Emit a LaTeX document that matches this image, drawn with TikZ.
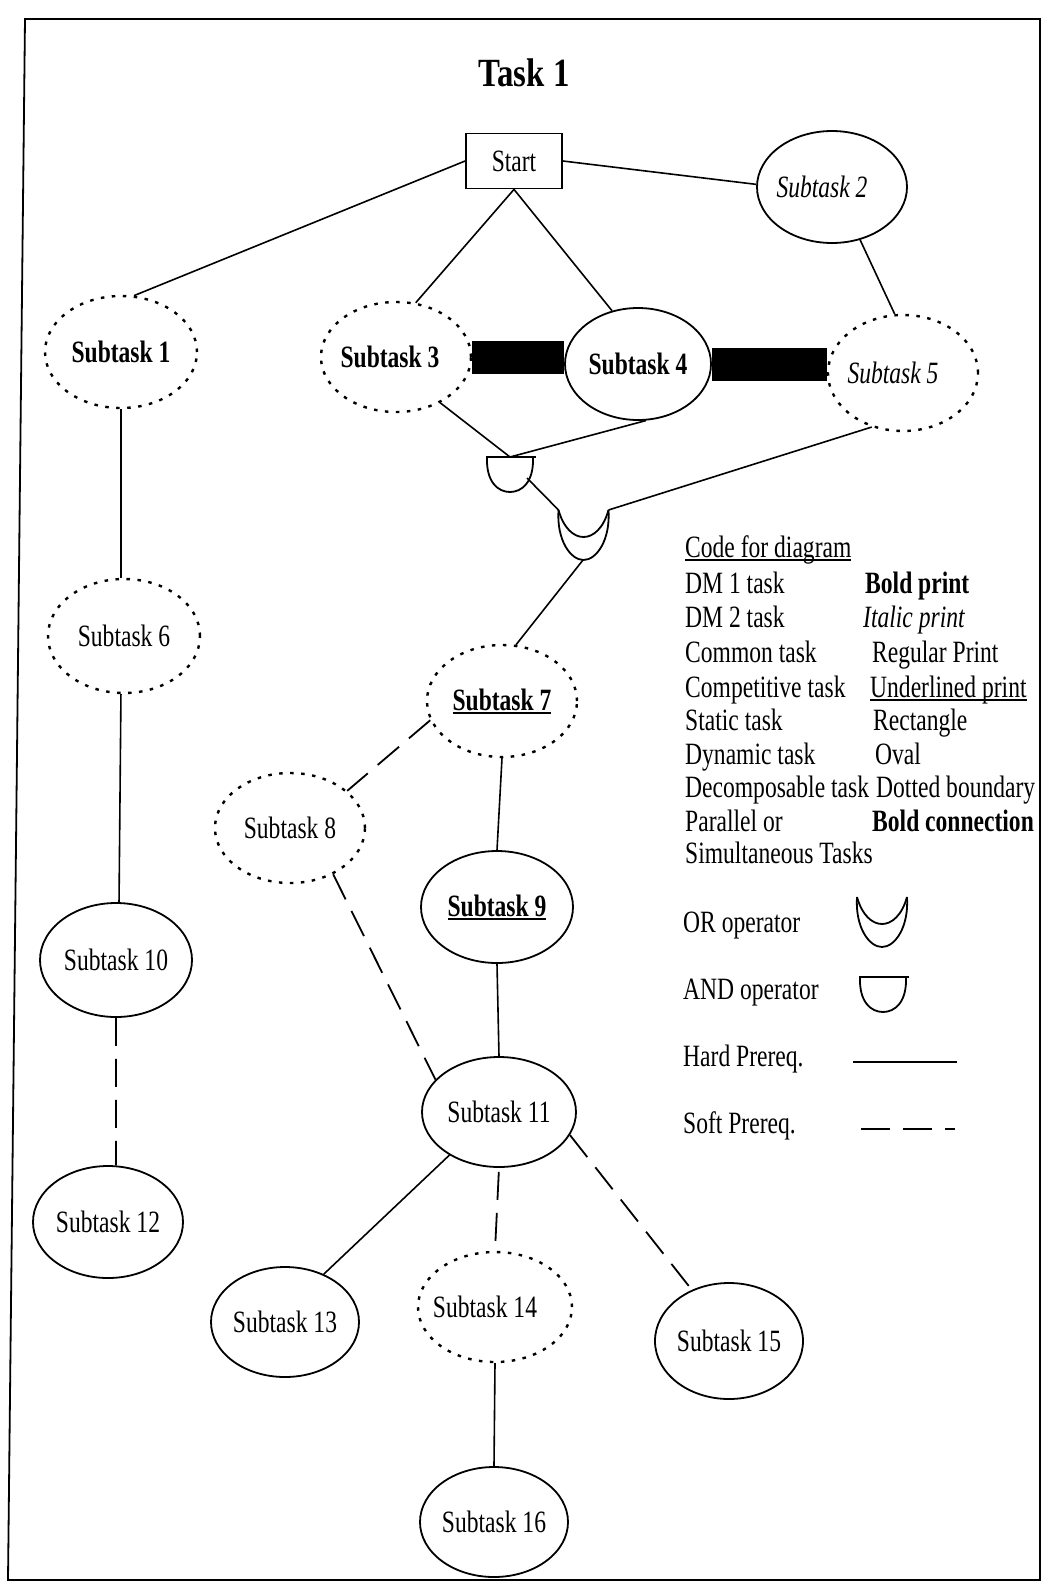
\documentclass[tikz,border=0pt]{standalone}
\usepackage{fontspec}
\setmainfont{Liberation Serif}[FakeStretch=0.76]
\newfontfamily\titlefont{Liberation Serif}[FakeStretch=0.82]
\usetikzlibrary{shapes.geometric}
\newcommand\myul[1]{\setbox0\hbox{#1}\rlap{\rule[-3.5pt]{\wd0}{1.5pt}}\box0}
\newcommand\offtxt[2]{\makebox[0pt]{\hspace*{#1}#2}}
\tikzset{
  txt/.style={font=\fontsize{31}{33}\selectfont},
  task/.style={ellipse, draw, line width=1.8pt, inner sep=0pt, txt},
  decomp/.style={task, line width=2.4pt, dash pattern=on 3.5pt off 7.5pt},
  static/.style={rectangle, draw, line width=1.8pt, inner sep=0pt, txt},
  hard/.style={line width=1.6pt},
  soft/.style={line width=1.8pt, dash pattern=on 28pt off 13pt},
  boldconn/.style={line width=33pt},
  legend/.style={anchor=base west, inner sep=0pt, txt},
  gate/.style={line width=1.8pt},
  andgate/.pic={
    \draw[gate] (-23,0) .. controls (-24,25) and (-12,35) .. (0,35) .. controls (12,35) and (24,25) .. (23,0);
    \draw[line width=2.4pt] (-24,0) -- (26,0);
  },
  orgate/.pic={
    \draw[gate] (-25,0) .. controls (-27,30) and (-13,50) .. (0,50) .. controls (13,50) and (27,30) .. (25,0);
    \draw[gate] (-25,0) .. controls (-20,18) and (-10,27) .. (0,27) .. controls (10,27) and (20,18) .. (25,0);
  }
}
\begin{document}
\begin{tikzpicture}[x=1pt,y=-1pt]
\useasboundingbox (0,0) rectangle (1043,1583);
\draw[line width=1.8pt] (25,19) -- (1040,19) -- (1040,1580) -- (8,1580) -- cycle;

\node[font=\titlefont\bfseries\fontsize{40}{44}\selectfont, inner sep=0pt] (title) at (524,73) {Task 1};

% nodes
\node[static, minimum width=96pt, minimum height=55pt] (start) at (514,161) {Start};
\node[decomp, minimum width=152pt, minimum height=112pt] (s1) at (121,352) {\bfseries Subtask 1};
\node[task, minimum width=150pt, minimum height=112pt] (s2) at (832,187) {\itshape\offtxt{-20pt}{Subtask 2}};
\node[decomp, minimum width=150pt, minimum height=110pt] (s3) at (396,357) {\bfseries\offtxt{-12pt}{Subtask 3}};
\node[task, minimum width=146pt, minimum height=112pt] (s4) at (638,364) {\bfseries Subtask 4};
\node[decomp, minimum width=150pt, minimum height=116pt] (s5) at (903,373) {\itshape\offtxt{-20pt}{Subtask 5}};
\node[decomp, minimum width=152pt, minimum height=114pt] (s6) at (124,636) {Subtask 6};
\node[decomp, minimum width=150pt, minimum height=112pt] (s7) at (502,701) {\bfseries\myul{Subtask 7}};
\node[decomp, minimum width=150pt, minimum height=110pt] (s8) at (290,828) {Subtask 8};
\node[task, minimum width=152pt, minimum height=112pt] (s9) at (497,907) {\bfseries\myul{Subtask 9}};
\node[task, minimum width=152pt, minimum height=114pt] (s10) at (116,960) {Subtask 10};
\node[task, minimum width=154pt, minimum height=110pt] (s11) at (499,1112) {Subtask 11};
\node[task, minimum width=150pt, minimum height=112pt] (s12) at (108,1222) {Subtask 12};
\node[task, minimum width=148pt, minimum height=110pt] (s13) at (285,1322) {Subtask 13};
\node[decomp, minimum width=154pt, minimum height=110pt] (s14) at (495,1307) {\offtxt{-20pt}{Subtask 14}};
\node[task, minimum width=148pt, minimum height=116pt] (s15) at (729,1341) {Subtask 15};
\node[task, minimum width=148pt, minimum height=110pt] (s16) at (494,1522) {Subtask 16};

% gates
\pic (andg) at (510,457) {andgate};
\pic (org) at (583.5,510) {orgate};
\coordinate (andin) at (510,457);
\coordinate (andout) at (527,478);
\coordinate (orl) at (558.5,510);
\coordinate (orr) at (608.5,510);
\coordinate (orout) at (583,560);

% bold (parallel) connections
\draw[boldconn] (s3.east) -- (s3.east -| s4.west);
\draw[boldconn] (s4.east) -- (s4.east -| s5.west);

% hard prerequisites
\draw[hard] (start.west) -- (s1.77);
\draw[hard] (start.south) -- (s3.70);
\draw[hard] (start.south) -- (s4.116);
\draw[hard] (start.east) -- (s2.178);
\draw[hard] (s2.-62) -- (s5.98);
\draw[hard] (s3.-46) -- (andin);
\draw[hard] (s4.-82) -- (andin);
\draw[hard] (andout) -- (orl);
\draw[hard] (s5.-120) -- (orr);
\draw[hard] (orout) -- (s7.76);
\draw[hard] (s7.south) -- (s9.north);
\draw[hard] (s9.south) -- (s11.north);
\draw[hard] (s1.south) -- (s6.93);
\draw[hard] (s6.-93) -- (s10.87);
\draw[hard] (s11.221) -- (s13.51);
\draw[hard] (s14.south) -- (s16.north);

% soft prerequisites
\draw[soft] (s7.195) -- (s8.33);
\draw[soft] (s8.-47) -- (s11.153);
\draw[soft] (s10.south) -- (s12.82);
\draw[soft, shorten <=4pt, shorten >=10pt] (s11.south) -- (s14.north);
\draw[soft] (s11.-18) -- (s15.126);

% legend
\node[legend] (lcode) at (685,557) {\myul{Code for diagram}};
\node[legend] (l1) at (685,593) {DM 1 task};
\node[legend] (r1) at (865,593) {\bfseries Bold print};
\node[legend] (l2) at (685,627) {DM 2 task};
\node[legend] (r2) at (863,627) {\itshape Italic print};
\node[legend] (l3) at (685,662) {Common task};
\node[legend] (r3) at (872,662) {Regular Print};
\node[legend] (l4) at (685,697) {Competitive task};
\node[legend] (r4) at (870,697) {\myul{Underlined print}};
\node[legend] (l5) at (685,730) {Static task};
\node[legend] (r5) at (873,730) {Rectangle};
\node[legend] (l6) at (685,764) {Dynamic task};
\node[legend] (r6) at (875,764) {Oval};
\node[legend] (l7) at (685,797) {Decomposable task};
\node[legend] (r7) at (876,797) {Dotted boundary};
\node[legend] (l8) at (685,831) {Parallel or};
\node[legend] (r8) at (872,831) {\bfseries Bold connection};
\node[legend] (l9) at (685,863) {Simultaneous Tasks};
\node[legend] (l10) at (683,932) {OR operator};
\pic (legor) at (882,897) {orgate};
\node[legend] (l11) at (683,999) {AND operator};
\pic (legand) at (883,977) {andgate};
\node[legend] (l12) at (683,1066) {Hard Prereq.};
\coordinate (h1) at (853,1062);
\coordinate (h2) at (957,1062);
\draw[hard] (h1) -- (h2);
\node[legend] (l13) at (683,1133) {Soft Prereq.};
\coordinate (d1) at (861,1129);
\coordinate (d2) at (955,1129);
\draw[soft, dash pattern=on 29pt off 13pt] (d1) -- (d2);
\end{tikzpicture}
\end{document}
